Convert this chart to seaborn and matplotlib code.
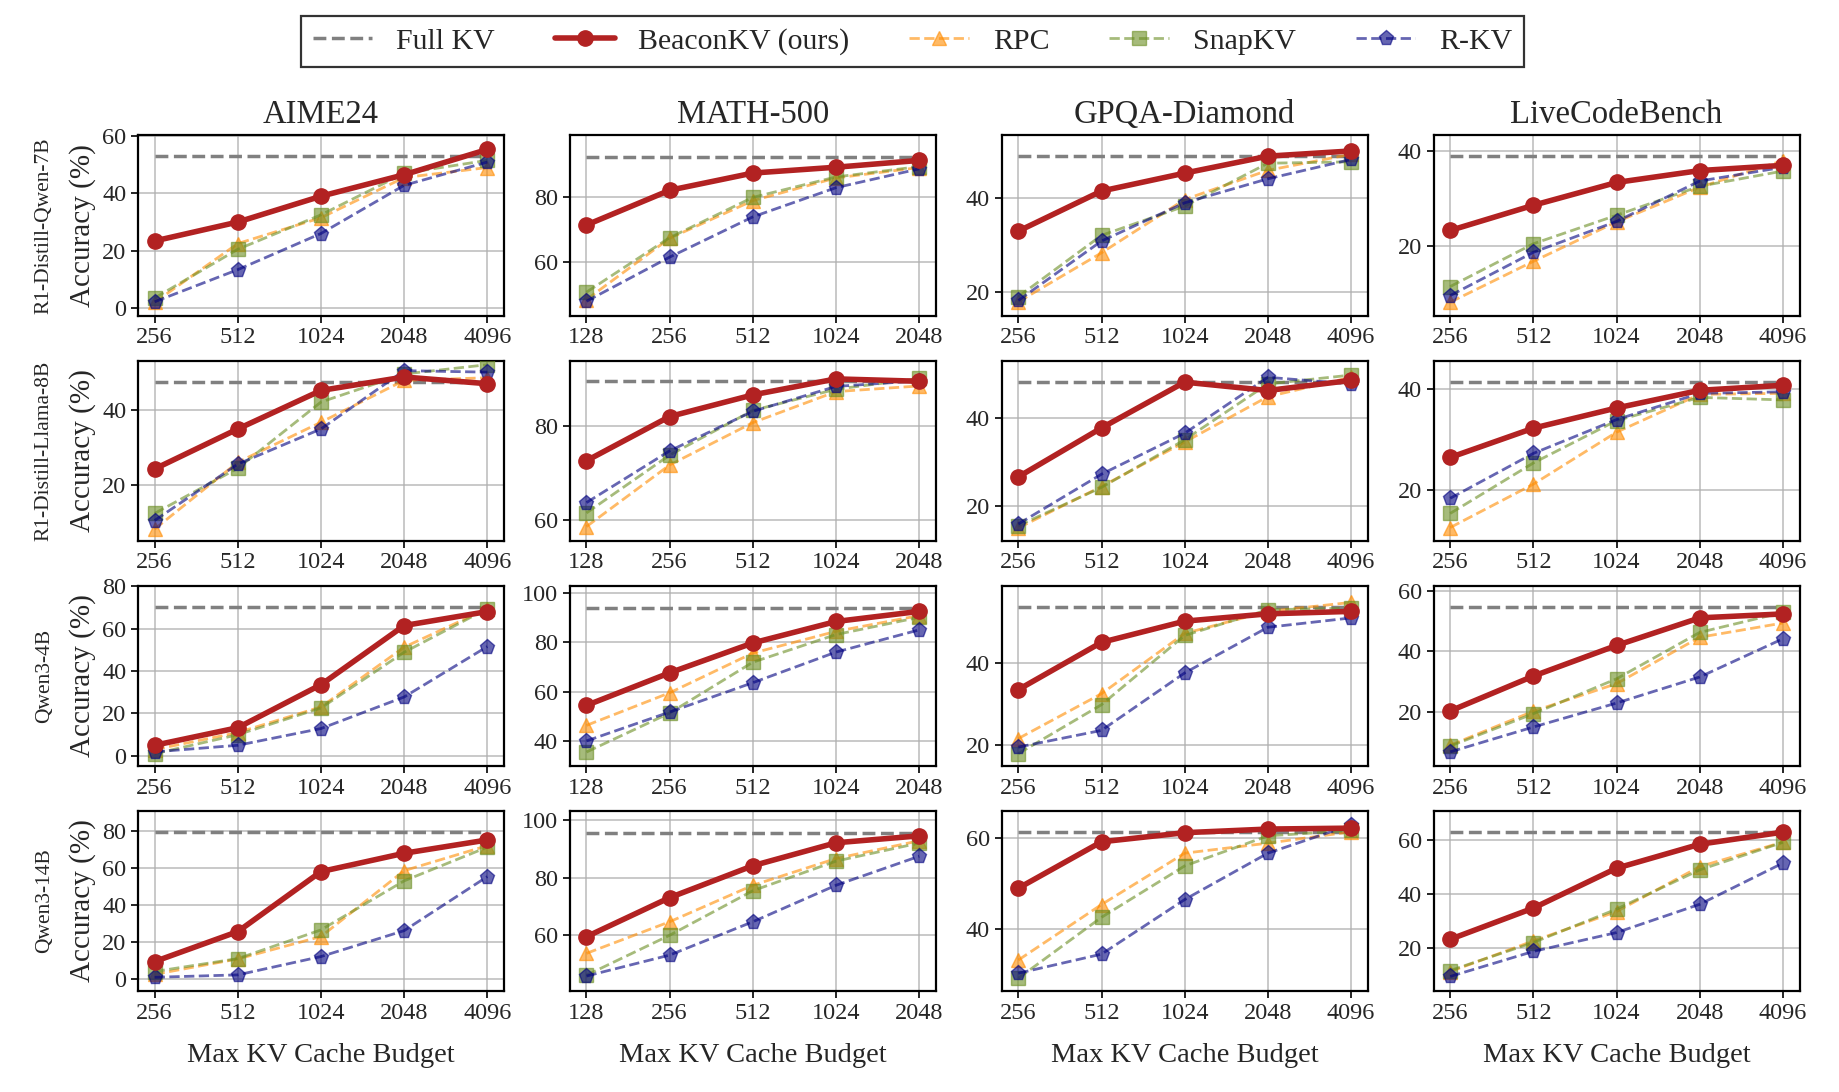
import matplotlib
matplotlib.use("Agg")
import matplotlib.pyplot as plt
import seaborn as sns
import pandas as pd
from matplotlib.lines import Line2D
from matplotlib.ticker import MultipleLocator

models = ["R1-Distill-Qwen-7B", "R1-Distill-Llama-8B", "Qwen3-4B", "Qwen3-14B"]
benchmarks = ["AIME24", "MATH-500", "GPQA-Diamond", "LiveCodeBench"]
budgets = ["256", "512", "1024", "2048", "4096"]
budgets_math = ["128", "256", "512", "1024", "2048"]

# full KV reference accuracy, [model][benchmark]
full_kv = [
    [53.0, 92.6, 48.8, 38.9],
    [47.4, 89.6, 48.2, 41.3],
    [70.1, 94.0, 53.7, 54.5],
    [79.3, 95.5, 61.2, 63.1],
]

# [model][benchmark][budget]
beacon = [
    [[23.4, 30.0, 39.0, 46.5, 55.3], [71.5, 82.2, 87.5, 89.3, 91.4],
     [32.9, 41.4, 45.2, 48.8, 49.9], [23.3, 28.6, 33.4, 35.9, 37.0]],
    [[24.2, 34.9, 45.2, 48.8, 47.0], [72.7, 82.1, 86.7, 90.1, 89.6],
     [26.7, 37.8, 48.2, 46.3, 48.6], [26.4, 32.2, 36.2, 39.7, 40.7]],
    [[5.0, 13.3, 33.6, 61.5, 68.1], [54.4, 67.6, 79.7, 88.4, 92.5],
     [33.5, 45.1, 50.3, 52.1, 52.7], [20.3, 31.8, 41.9, 51.0, 52.3]],
    [[9.4, 25.6, 58.0, 67.9, 75.1], [59.4, 73.0, 84.1, 92.1, 94.5],
     [48.9, 59.1, 61.1, 61.9, 62.1], [23.3, 34.9, 49.7, 58.6, 63.1]],
]
rpc = [
    [[2.0, 22.5, 31.5, 45.5, 49.0], [48.5, 67.4, 79.0, 86.0, 89.2],
     [17.9, 28.3, 39.6, 45.8, 49.2], [8.2, 16.8, 25.1, 32.4, 38.0]],
    [[8.1, 26.0, 36.7, 47.9, 48.6], [58.7, 71.8, 80.8, 87.4, 88.6],
     [15.1, 24.5, 34.6, 44.9, 49.3], [12.5, 21.1, 31.4, 38.9, 39.1]],
    [[3.0, 11.0, 23.1, 51.3, 69.5], [46.3, 59.5, 75.6, 84.4, 90.8],
     [21.5, 32.5, 47.3, 52.7, 54.9], [9.0, 20.2, 29.3, 44.6, 49.3]],
    [[2.5, 10.8, 22.9, 58.5, 72.0], [53.6, 64.6, 77.3, 86.6, 92.8],
     [33.1, 45.3, 56.6, 58.8, 61.3], [11.3, 22.7, 33.6, 50.3, 59.4]],
]
snapkv = [
    [[3.5, 20.5, 32.5, 47.0, 51.5], [50.8, 67.6, 80.0, 86.3, 89.5],
     [19.0, 32.0, 38.2, 47.3, 47.6], [11.5, 20.5, 26.5, 32.6, 35.8]],
    [[12.3, 24.4, 42.1, 49.6, 52.1], [61.6, 73.9, 83.4, 87.9, 90.2],
     [15.6, 24.3, 35.1, 47.8, 49.8], [15.3, 25.3, 33.7, 38.3, 37.8]],
    [[1.0, 10.0, 22.6, 48.9, 69.5], [35.5, 51.3, 71.9, 83.1, 90.1],
     [17.8, 29.8, 46.8, 53.1, 53.5], [8.7, 19.4, 30.9, 46.2, 52.8]],
    [[4.0, 11.0, 26.5, 53.0, 71.2], [46.0, 59.9, 75.4, 85.7, 92.0],
     [29.1, 42.5, 53.8, 60.4, 61.6], [11.7, 22.1, 34.5, 49.1, 59.3]],
]
rkv = [
    [[2.2, 13.4, 26.0, 42.8, 50.9], [48.0, 61.6, 74.0, 83.0, 88.8],
     [18.2, 30.8, 38.9, 44.0, 48.1], [9.6, 18.7, 25.2, 33.7, 36.6]],
    [[10.4, 25.5, 34.9, 50.5, 50.1], [63.8, 74.8, 83.2, 88.5, 89.7],
     [16.0, 27.3, 36.6, 49.3, 47.8], [18.3, 27.2, 33.9, 39.1, 39.4]],
    [[1.9, 5.0, 12.9, 27.8, 51.6], [40.0, 51.7, 63.6, 76.0, 85.0],
     [19.4, 23.5, 37.6, 48.8, 51.1], [6.8, 15.0, 22.9, 31.5, 44.1]],
    [[0.9, 2.2, 12.1, 26.1, 55.3], [45.7, 53.0, 64.6, 77.3, 87.4],
     [30.2, 34.4, 46.4, 56.6, 62.8], [9.5, 18.8, 25.8, 36.3, 51.6]],
]

# y ranges used in the figure
ylims = [
    [(-2.6, 60.2), (43.6, 99.1), (15.0, 53.2), (5.4, 43.3)],
    [(5.0, 53.2), (55.7, 94.0), (12.2, 53.1), (9.9, 45.6)],
    [(-4.7, 80.3), (29.9, 102.9), (14.8, 59.0), (2.2, 61.6)],
    [(-6.5, 90.8), (40.5, 103.2), (26.3, 65.9), (4.1, 71.0)],
]

methods = {
    "BeaconKV (ours)": dict(data=beacon, color="#B22222", marker="o", ls="-",
                            lw=4.0, ms=11, alpha=1.0, z=5),
    "RPC": dict(data=rpc, color="darkorange", marker="^", ls="--",
                lw=2.0, ms=10, alpha=0.6, z=3),
    "SnapKV": dict(data=snapkv, color="olivedrab", marker="s", ls="--",
                   lw=2.0, ms=10, alpha=0.6, z=3),
    "R-KV": dict(data=rkv, color="navy", marker="p", ls="--",
                 lw=2.0, ms=11, alpha=0.6, z=4),
}

rows = []
for name, st in methods.items():
    for i, m in enumerate(models):
        for j, b in enumerate(benchmarks):
            for k, v in enumerate(st["data"][i][j]):
                rows.append(dict(method=name, model=m, bench=b, pos=k, acc=v))
df = pd.DataFrame(rows)

sns.set_style("white")
plt.rcParams['font.family'] = ['Liberation Serif', 'DejaVu Serif']
plt.rcParams['axes.unicode_minus'] = False

fig, axes = plt.subplots(4, 4, figsize=(18.4, 10.92), dpi=100)
fig.subplots_adjust(left=0.075, right=0.978, top=0.876, bottom=0.0925,
                    wspace=0.18, hspace=0.25)

for i, m in enumerate(models):
    for j, b in enumerate(benchmarks):
        ax = axes[i, j]
        labels = budgets_math if b == "MATH-500" else budgets
        ax.hlines(full_kv[i][j], 0, len(labels) - 1, colors="gray",
                  linestyles="--", lw=2.5, zorder=2)
        for name, st in methods.items():
            sub = df[(df.method == name) & (df.model == m) & (df.bench == b)]
            sns.lineplot(data=sub, x="pos", y="acc", ax=ax, color=st["color"],
                         marker=st["marker"], linestyle=st["ls"],
                         linewidth=st["lw"], markersize=st["ms"],
                         alpha=st["alpha"], markeredgecolor=st["color"],
                         markeredgewidth=1.0, zorder=st["z"], legend=False)
        ax.set_xticks(range(len(labels)))
        ax.set_xticklabels(labels)
        ax.set_ylim(*ylims[i][j])
        ax.yaxis.set_major_locator(MultipleLocator(20))
        ax.grid(True, color="#b0b0b0", lw=1.2, alpha=0.8)
        ax.set_axisbelow(True)
        for sp in ax.spines.values():
            sp.set_color("black")
            sp.set_linewidth(1.6)
        ax.tick_params(axis="both", labelsize=17.5, direction="out",
                       length=5, width=1.2, color="black", left=True, bottom=True)
        ax.set_xlabel("")
        ax.set_ylabel("")
        if i == 0:
            ax.set_title(b, fontsize=23.5, pad=9)
        if i == 3:
            ax.set_xlabel("Max KV Cache Budget", fontsize=20.5, labelpad=14)
        if j == 0:
            ax.set_ylabel("Accuracy (%)", fontsize=21)
            pos = ax.get_position()
            fig.text(0.024, (pos.y0 + pos.y1) / 2, m, rotation=90,
                     ha="center", va="center", fontsize=15.5)

handles = [Line2D([], [], color="gray", ls="--", lw=2.5)]
for name, st in methods.items():
    handles.append(Line2D([], [], color=st["color"], marker=st["marker"],
                          ls=st["ls"], lw=st["lw"], ms=st["ms"],
                          alpha=st["alpha"], markeredgecolor=st["color"]))
leg = fig.legend(handles, ["Full KV"] + list(methods.keys()), loc="center",
                 bbox_to_anchor=(0.496, 0.962), ncol=5, fontsize=21.5,
                 frameon=True, fancybox=False, edgecolor="black",
                 borderpad=0.4, columnspacing=2.0, handlelength=2.0)
leg.get_frame().set_linewidth(1.6)

plt.savefig("out.png", dpi=100)
